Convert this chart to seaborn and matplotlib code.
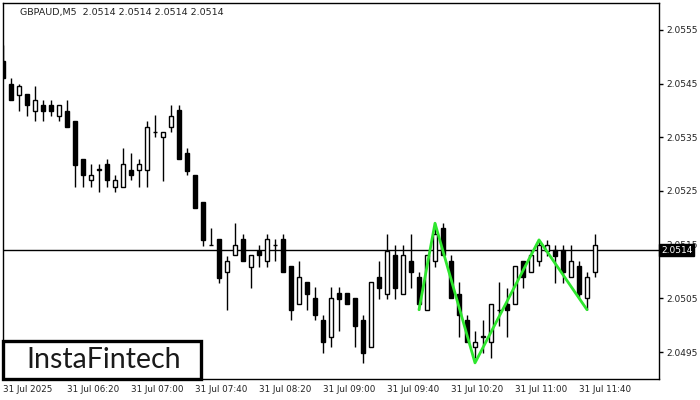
import matplotlib
matplotlib.use("Agg")
import matplotlib.pyplot as plt
import seaborn as sns
import pandas as pd
import numpy as np
from matplotlib.patches import Rectangle

# ---------------- data (GBPAUD M5, 31 Jul 2025) ----------------
opens = [2.05492, 2.05450, 2.05429, 2.05430, 2.05399, 2.05410, 2.05410, 2.05389, 2.05399, 2.05380,
         2.05310, 2.05270, 2.05290, 2.05300, 2.05258, 2.05258, 2.05290, 2.05290, 2.05290, 2.05360,
         2.05350, 2.05369, 2.05400, 2.05320, 2.05280, 2.05230, 2.05149, 2.05160, 2.05099, 2.05130,
         2.05160, 2.05109, 2.05139, 2.05119, 2.05149, 2.05160, 2.05110, 2.05039, 2.05080, 2.05050,
         2.05009, 2.04979, 2.05060, 2.05060, 2.05050, 2.05009, 2.04959, 2.05089, 2.05059, 2.05131,
         2.05059, 2.05119, 2.05089, 2.05029, 2.05119, 2.05181, 2.05119, 2.05059, 2.05009, 2.04959,
         2.04979, 2.04969, 2.05029, 2.05039, 2.05039, 2.05119, 2.05099, 2.05119, 2.05139, 2.05140,
         2.05140, 2.05089, 2.05110, 2.05050, 2.05099]
highs = [2.05522, 2.05461, 2.05450, 2.05430, 2.05445, 2.05420, 2.05420, 2.05410, 2.05420, 2.05380,
         2.05310, 2.05300, 2.05300, 2.05310, 2.05280, 2.05330, 2.05320, 2.05310, 2.05381, 2.05391,
         2.05360, 2.05411, 2.05411, 2.05330, 2.05280, 2.05230, 2.05181, 2.05160, 2.05129, 2.05191,
         2.05170, 2.05130, 2.05149, 2.05170, 2.05160, 2.05170, 2.05110, 2.05119, 2.05080, 2.05071,
         2.05020, 2.05071, 2.05071, 2.05060, 2.05050, 2.05020, 2.05080, 2.05119, 2.05170, 2.05150,
         2.05150, 2.05170, 2.05099, 2.05131, 2.05190, 2.05190, 2.05130, 2.05080, 2.05020, 2.04990,
         2.05009, 2.05039, 2.05080, 2.05070, 2.05110, 2.05119, 2.05140, 2.05159, 2.05159, 2.05149,
         2.05149, 2.05149, 2.05119, 2.05099, 2.05170]
lows = [2.05460, 2.05419, 2.05399, 2.05389, 2.05380, 2.05380, 2.05389, 2.05380, 2.05369, 2.05258,
        2.05258, 2.05258, 2.05249, 2.05258, 2.05249, 2.05258, 2.05270, 2.05258, 2.05258, 2.05350,
        2.05269, 2.05359, 2.05309, 2.05279, 2.05219, 2.05148, 2.05149, 2.05079, 2.05028, 2.05130,
        2.05119, 2.05070, 2.05109, 2.05109, 2.05119, 2.05099, 2.05009, 2.05039, 2.05029, 2.05009,
        2.04948, 2.04959, 2.04989, 2.05039, 2.04959, 2.04929, 2.04959, 2.05049, 2.05049, 2.05049,
        2.05059, 2.05070, 2.05029, 2.05029, 2.05109, 2.05130, 2.05050, 2.04978, 2.04969, 2.04939,
        2.04949, 2.04939, 2.04998, 2.04979, 2.05039, 2.05070, 2.05099, 2.05110, 2.05129, 2.05079,
        2.05079, 2.05089, 2.05050, 2.05028, 2.05089]
closes = [2.05460, 2.05419, 2.05445, 2.05410, 2.05420, 2.05399, 2.05399, 2.05410, 2.05369, 2.05299,
          2.05279, 2.05279, 2.05290, 2.05270, 2.05270, 2.05300, 2.05279, 2.05300, 2.05369, 2.05360,
          2.05360, 2.05390, 2.05309, 2.05288, 2.05219, 2.05159, 2.05149, 2.05088, 2.05119, 2.05149,
          2.05119, 2.05130, 2.05130, 2.05160, 2.05149, 2.05099, 2.05029, 2.05089, 2.05058, 2.05019,
          2.04969, 2.05050, 2.05049, 2.05039, 2.04999, 2.04949, 2.05080, 2.05070, 2.05139, 2.05070,
          2.05131, 2.05099, 2.05039, 2.05131, 2.05170, 2.05130, 2.05050, 2.05020, 2.04969, 2.04969,
          2.04979, 2.05039, 2.05029, 2.05029, 2.05110, 2.05089, 2.05130, 2.05149, 2.05149, 2.05129,
          2.05099, 2.05119, 2.05059, 2.05089, 2.05149]

pattern_idx = [52, 54, 59, 67, 73]
pattern_price = [2.05029, 2.05190, 2.04930, 2.05159, 2.05029]

bid_price = 2.0514
y_ticks = [2.0495, 2.0505, 2.0515, 2.0525, 2.0535, 2.0545, 2.0555]
x_tick_idx = [0, 8, 16, 24, 32, 40, 48, 56, 64, 72]
x_tick_labels = ["31 Jul 2025", "31 Jul 06:20", "31 Jul 07:00", "31 Jul 07:40", "31 Jul 08:20",
                 "31 Jul 09:00", "31 Jul 09:40", "31 Jul 10:20", "31 Jul 11:00", "31 Jul 11:40"]
title_text = "GBPAUD,M5  2.0514 2.0514 2.0514 2.0514"
logo_text = "InstaFintech"

# ---------------- figure ----------------
sns.set_style("white")
plt.rcParams['font.family'] = ['DejaVu Sans']

fig = plt.figure(figsize=(7, 4), dpi=100)
ax = fig.add_axes([3 / 700, 21 / 400, 656 / 700, 376 / 400])

df = pd.DataFrame({"i": np.arange(len(opens)), "o": opens, "h": highs, "l": lows, "c": closes})
up = df["c"] >= df["o"]
bw = 0.62

# wicks
ax.vlines(df["i"], df["l"], df["h"], color="black", lw=1, zorder=2)
# bodies
bottoms = np.minimum(df["o"], df["c"])
heights = np.maximum(np.abs(df["c"] - df["o"]), 0.000002)
ax.bar(df["i"][up], heights[up], bottom=bottoms[up], width=bw, color="white",
       edgecolor="black", linewidth=1, zorder=3)
ax.bar(df["i"][~up], heights[~up], bottom=bottoms[~up], width=bw, color="black",
       edgecolor="black", linewidth=1, zorder=3)

# price line
ax.axhline(bid_price, color="black", lw=1, zorder=1)

# pattern line
pat = pd.DataFrame({"i": pattern_idx, "p": pattern_price})
sns.lineplot(data=pat, x="i", y="p", ax=ax, color="#2EE62E", lw=2, zorder=5, sort=False)

ax.set_xlim(0, 82)
ax.set_ylim(2.0490, 2.0560)
ax.set_xlabel("")
ax.set_ylabel("")

for s in ax.spines.values():
    s.set_color("black")
    s.set_linewidth(1)
    s.set_visible(True)

ax.yaxis.tick_right()
ax.set_yticks(y_ticks)
ax.set_yticklabels([f"{v:.4f}" for v in y_ticks])
ax.tick_params(axis="y", direction="out", length=3, width=1, colors="black",
               labelsize=6.5, pad=2, labelcolor="#222222")
ax.set_xticks(x_tick_idx)
ax.set_xticklabels(x_tick_labels, ha="left")
ax.tick_params(axis="x", direction="out", length=3, width=1, colors="black",
               labelsize=6.3, pad=1, labelcolor="#222222")

# title
ax.text(17 / 656, 1 - 9 / 376, title_text, transform=ax.transAxes, fontsize=6.8,
        ha="left", va="center", color="#222222")

# bid label on right axis
ax.text(1.003, bid_price, "2.0514", transform=ax.get_yaxis_transform(), fontsize=6.5,
        color="white", ha="left", va="center", clip_on=False, zorder=10,
        bbox=dict(boxstyle="square,pad=0.18", fc="black", ec="black"))

# logo
ax.add_patch(Rectangle((0, 0), 198 / 656, 38 / 376, transform=ax.transAxes, fc="white",
                       ec="black", lw=2.4, zorder=8, clip_on=False))
ax.text(101 / 656, 19 / 376, logo_text, transform=ax.transAxes, fontsize=20.5,
        family=["Lato", "DejaVu Sans"], ha="center", va="center", color="#1a1a1a", zorder=9)

fig.savefig("out.png", dpi=100)
